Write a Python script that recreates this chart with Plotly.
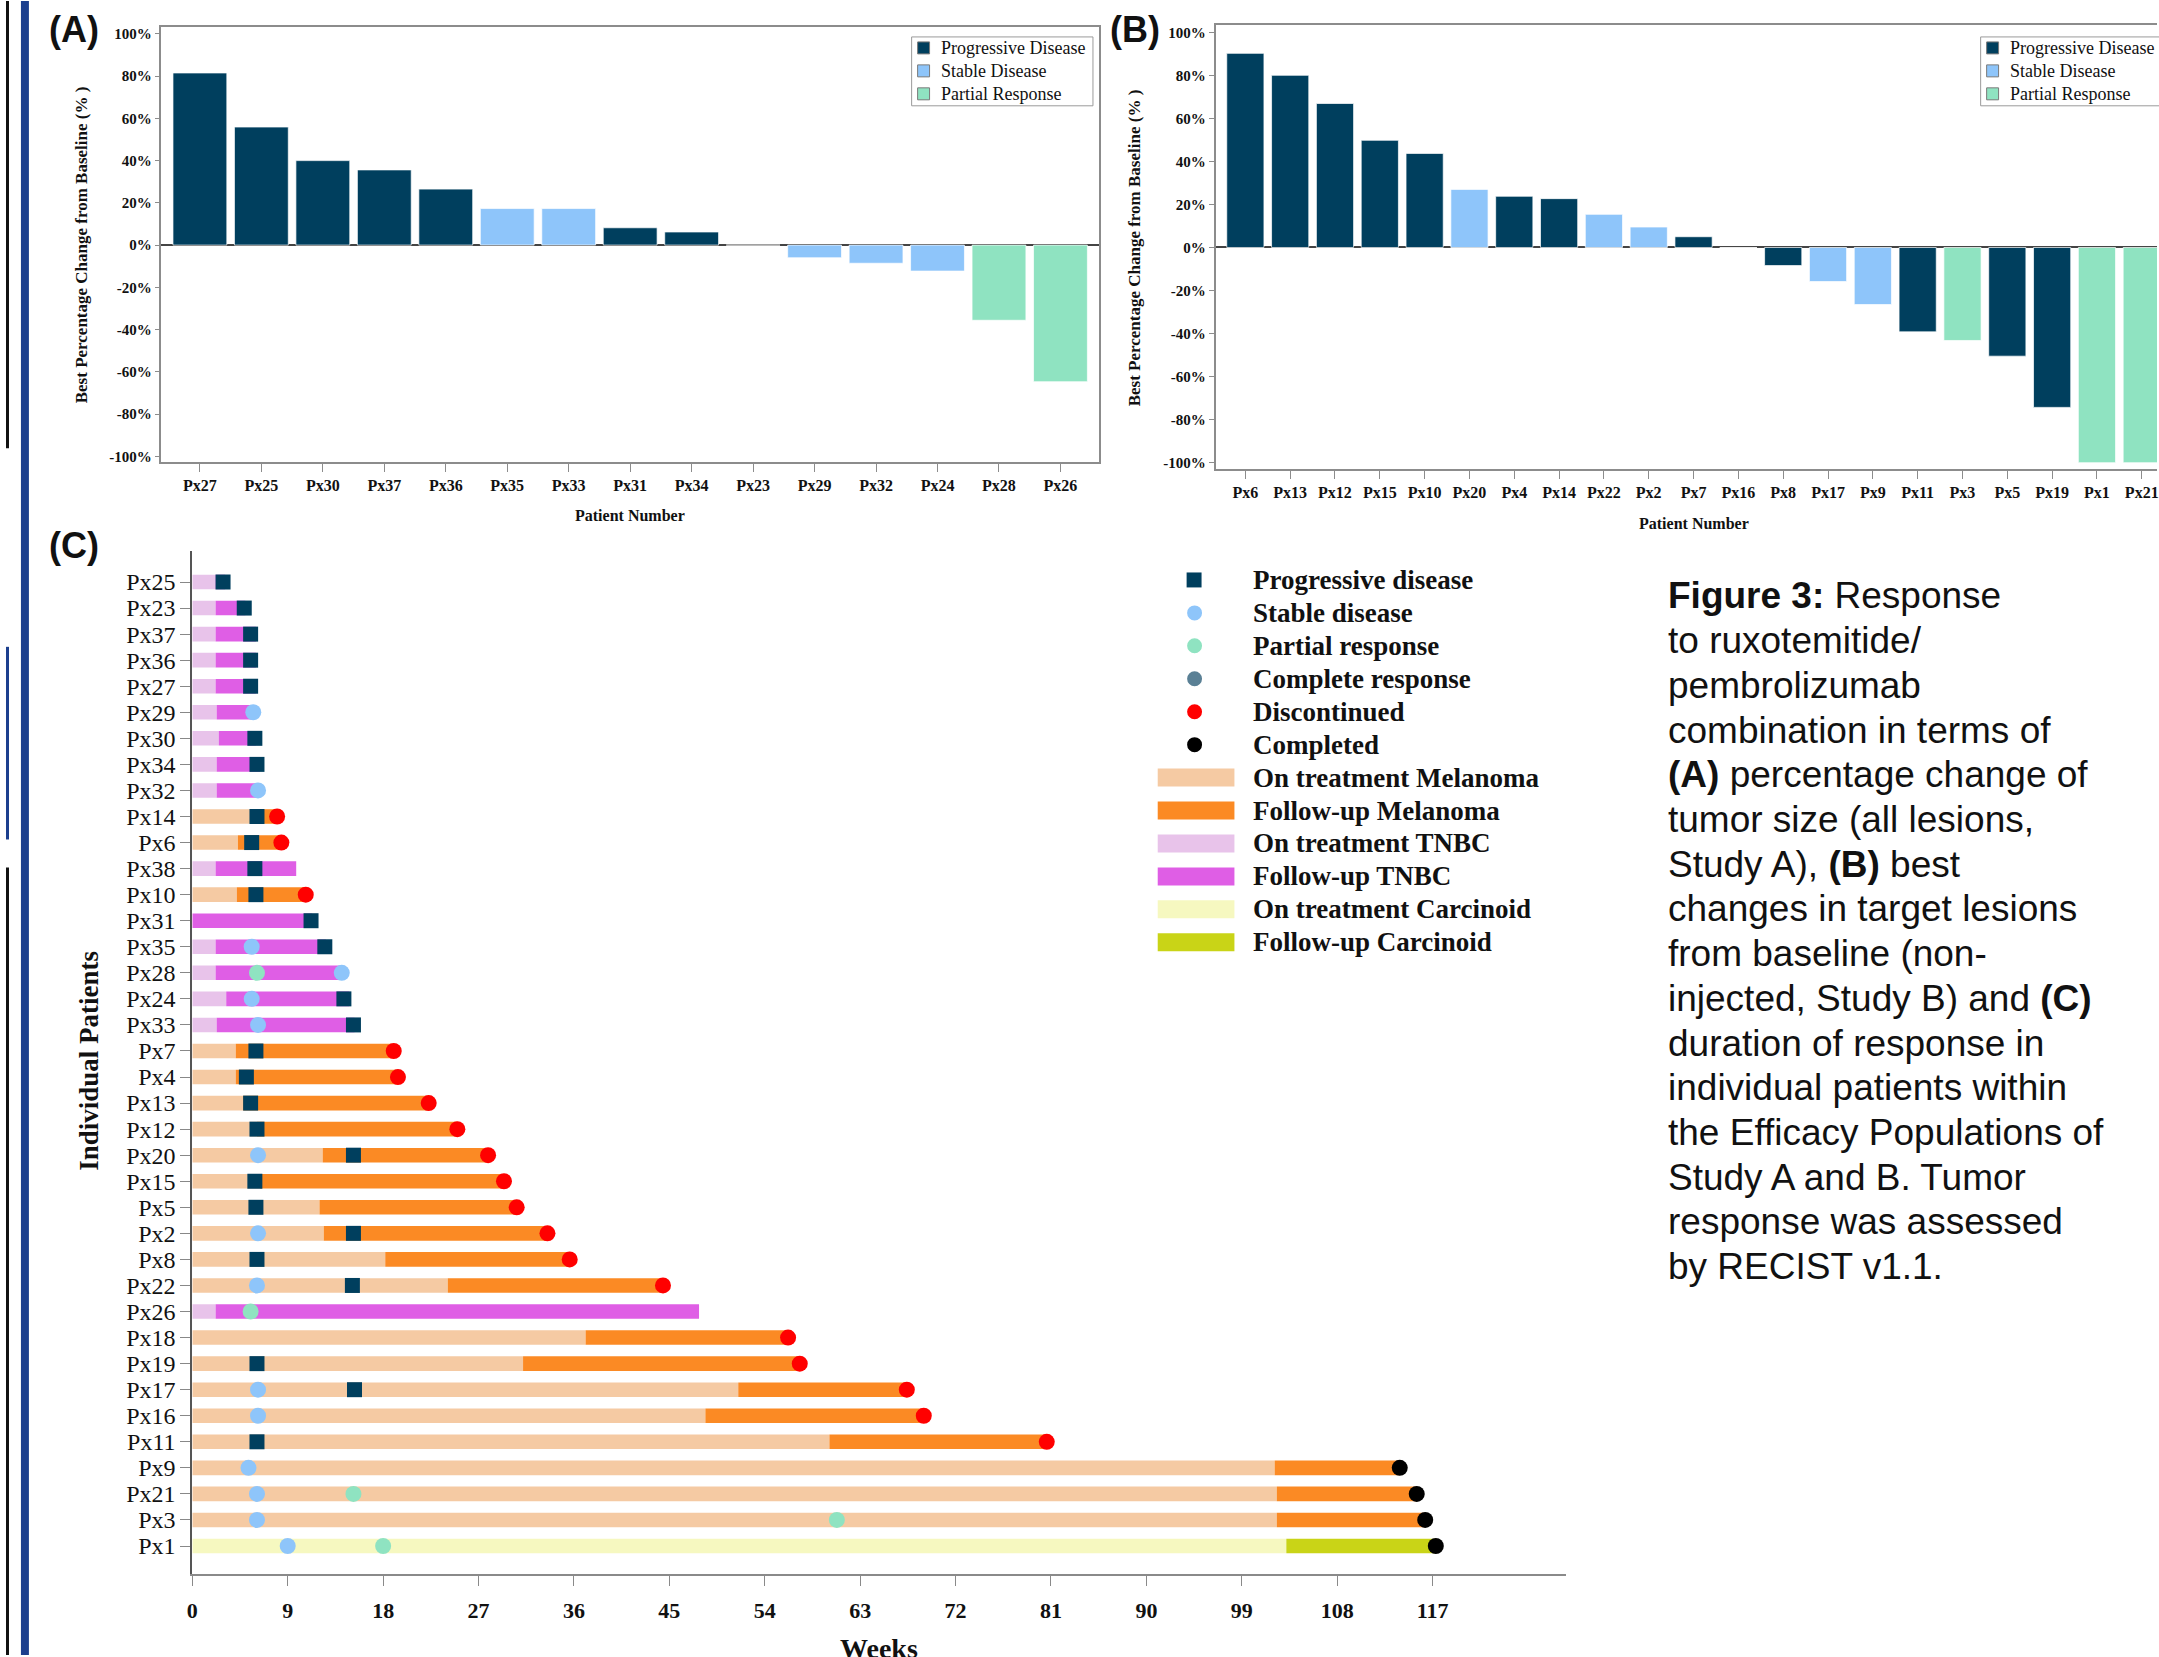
import plotly.graph_objects as go

W, H = 2159, 1657

# ---------------- Panel A data ----------------
a_patients = ["Px27", "Px25", "Px30", "Px37", "Px36", "Px35", "Px33", "Px31",
              "Px34", "Px23", "Px29", "Px32", "Px24", "Px28", "Px26"]
a_values = [81.5, 55.9, 40.0, 35.6, 26.5, 17.3, 17.3, 8.2, 6.2, 0.0,
            -6.0, -8.6, -12.3, -35.6, -64.7]
a_response = ["PD", "PD", "PD", "PD", "PD", "SD", "SD", "PD", "PD", "PD",
              "SD", "SD", "SD", "PR", "PR"]

# ---------------- Panel B data ----------------
b_patients = ["Px6", "Px13", "Px12", "Px15", "Px10", "Px20", "Px4", "Px14",
              "Px22", "Px2", "Px7", "Px16", "Px8", "Px17", "Px9", "Px11",
              "Px3", "Px5", "Px19", "Px1", "Px21"]
b_values = [90.2, 80.0, 66.9, 49.8, 43.7, 27.0, 23.8, 22.7, 15.4, 9.5, 5.0,
            0.0, -8.4, -15.8, -26.5, -39.2, -43.2, -50.5, -74.3, -100.0, -100.0]
b_response = ["PD", "PD", "PD", "PD", "PD", "SD", "PD", "PD", "SD", "SD", "PD",
              "SD", "PD", "SD", "SD", "PD", "PR", "PD", "PD", "PR", "PR"]

pct_tick_vals = [100, 80, 60, 40, 20, 0, -20, -40, -60, -80, -100]
pct_tick_text = ["100%", "80%", "60%", "40%", "20%", "0%", "-20%", "-40%",
                 "-60%", "-80%", "-100%"]

# ---------------- Panel C data (top to bottom) ----------------
c_patients = ["Px25", "Px23", "Px37", "Px36", "Px27", "Px29", "Px30", "Px34",
              "Px32", "Px14", "Px6", "Px38", "Px10", "Px31", "Px35", "Px28",
              "Px24", "Px33", "Px7", "Px4", "Px13", "Px12", "Px20", "Px15",
              "Px5", "Px2", "Px8", "Px22", "Px26", "Px18", "Px19", "Px17",
              "Px16", "Px11", "Px9", "Px21", "Px3", "Px1"]
c_type = ["TNBC"] * 9 + ["Melanoma", "Melanoma", "TNBC", "Melanoma", "TNBC",
          "TNBC", "TNBC", "TNBC", "TNBC"] + ["Melanoma"] * 10 + ["TNBC"] + \
         ["Melanoma"] * 8 + ["Carcinoid"]
c_treat_end = [2.2, 2.2, 2.2, 2.2, 2.2, 2.3, 2.5, 2.3, 2.3, 6.6, 4.3, 2.2, 4.2,
               0.0, 2.2, 2.2, 3.2, 2.3, 4.1, 4.1, 4.8, 6.1, 12.3, 6.4, 12.0,
               12.4, 18.2, 24.1, 2.2, 37.1, 31.2, 51.5, 48.4, 60.1, 102.1,
               102.3, 102.3, 103.2]
c_end = [3.1, 5.0, 6.0, 6.0, 6.0, 5.8, 6.0, 6.4, 6.2, 8.0, 8.4, 9.8, 10.7,
         11.3, 12.6, 14.1, 14.8, 15.3, 19.0, 19.4, 22.3, 25.0, 27.9, 29.4,
         30.6, 33.5, 35.6, 44.4, 47.8, 56.2, 57.3, 67.4, 69.0, 80.6, 113.9,
         115.5, 116.3, 117.3]

pd_patients = ["Px25", "Px23", "Px37", "Px36", "Px27", "Px30", "Px34", "Px14",
               "Px6", "Px38", "Px10", "Px31", "Px35", "Px24", "Px33", "Px7",
               "Px4", "Px13", "Px12", "Px20", "Px15", "Px5", "Px2", "Px8",
               "Px22", "Px19", "Px17", "Px11"]
pd_weeks = [2.9, 4.9, 5.5, 5.5, 5.5, 5.9, 6.1, 6.1, 5.6, 5.9, 6.0, 11.2, 12.5,
            14.3, 15.2, 6.0, 5.1, 5.5, 6.1, 15.2, 5.9, 6.0, 15.2, 6.1, 15.1,
            6.1, 15.3, 6.1]
sd_patients = ["Px29", "Px32", "Px35", "Px28", "Px24", "Px33", "Px20", "Px2",
               "Px22", "Px17", "Px16", "Px9", "Px21", "Px3", "Px1"]
sd_weeks = [5.75, 6.2, 5.6, 14.1, 5.6, 6.2, 6.2, 6.2, 6.1, 6.2, 6.2, 5.3, 6.1,
            6.1, 9.0]
pr_patients = ["Px28", "Px26", "Px21", "Px3", "Px1"]
pr_weeks = [6.1, 5.5, 15.2, 60.8, 18.0]
disc_patients = ["Px14", "Px6", "Px10", "Px7", "Px4", "Px13", "Px12", "Px20",
                 "Px15", "Px5", "Px2", "Px8", "Px22", "Px18", "Px19", "Px17",
                 "Px16", "Px11"]
disc_weeks = [8.0, 8.4, 10.7, 19.0, 19.4, 22.3, 25.0, 27.9, 29.4, 30.6, 33.5,
              35.6, 44.4, 56.2, 57.3, 67.4, 69.0, 80.6]
comp_patients = ["Px9", "Px21", "Px3", "Px1"]
comp_weeks = [113.9, 115.5, 116.3, 117.3]

week_ticks = [0, 9, 18, 27, 36, 45, 54, 63, 72, 81, 90, 99, 108, 117]

caption_lines = [
    "<b>Figure 3:</b> Response",
    "to ruxotemitide/",
    "pembrolizumab",
    "combination in terms of",
    "<b>(A)</b> percentage change of",
    "tumor size (all lesions,",
    "Study A), <b>(B)</b> best",
    "changes in target lesions",
    "from baseline (non-",
    "injected, Study B) and <b>(C)</b>",
    "duration of response in",
    "individual patients within",
    "the Efficacy Populations of",
    "Study A and B. Tumor",
    "response was assessed",
    "by RECIST v1.1.",
]

# ---------------- styles ----------------
resp_colors = {"PD": "#003f5e", "SD": "#8ec5fa", "PR": "#8fe3c1"}
resp_names = {"PD": "Progressive Disease", "SD": "Stable Disease",
              "PR": "Partial Response"}
on_colors = {"Melanoma": "#f5caa3", "TNBC": "#e8c3ea", "Carcinoid": "#f6f8c0"}
fu_colors = {"Melanoma": "#fb8a24", "TNBC": "#df5ee5", "Carcinoid": "#c9d417"}
CR_COLOR = "#5a8095"
SERIF = "Liberation Serif"
SANS = "Liberation Sans"


def X(px):
    return px / W


def Y(py):
    return 1 - py / H


fig = go.Figure()

# Panels A and B bars
for pats, vals, resp, xa, ya, bw in [
    (a_patients, a_values, a_response, "x", "y", 0.876),
    (b_patients, b_values, b_response, "x2", "y2", 0.83),
]:
    for cat in ["PD", "SD", "PR"]:
        xs = [p for p, r in zip(pats, resp) if r == cat]
        ys = [v for v, r in zip(vals, resp) if r == cat]
        fig.add_trace(go.Bar(
            x=xs, y=ys, xaxis=xa, yaxis=ya, width=bw, name=resp_names[cat],
            marker=dict(color=resp_colors[cat],
                        line=dict(width=1, color="rgba(255,255,255,0.7)")),
            showlegend=False))

# Panel C bars
for ctype in ["Melanoma", "TNBC", "Carcinoid"]:
    idx = [i for i, t in enumerate(c_type) if t == ctype]
    ys = [c_patients[i] for i in idx]
    fig.add_trace(go.Bar(
        orientation="h", y=ys, x=[c_treat_end[i] for i in idx],
        base=[0] * len(idx), xaxis="x3", yaxis="y3", width=0.56,
        marker=dict(color=on_colors[ctype], line=dict(width=0)),
        name="On treatment " + ctype, showlegend=False))
    fig.add_trace(go.Bar(
        orientation="h", y=ys,
        x=[c_end[i] - c_treat_end[i] for i in idx],
        base=[c_treat_end[i] for i in idx], xaxis="x3", yaxis="y3",
        width=0.56, marker=dict(color=fu_colors[ctype], line=dict(width=0)),
        name="Follow-up " + ctype, showlegend=False))

# Panel C markers
for pats, wks, sym, col, size, nm in [
    (pd_patients, pd_weeks, "square", resp_colors["PD"], 15, "Progressive disease"),
    (sd_patients, sd_weeks, "circle", resp_colors["SD"], 16, "Stable disease"),
    (pr_patients, pr_weeks, "circle", resp_colors["PR"], 16, "Partial response"),
    (disc_patients, disc_weeks, "circle", "#ff0000", 16, "Discontinued"),
    (comp_patients, comp_weeks, "circle", "#000000", 16, "Completed"),
]:
    fig.add_trace(go.Scatter(
        x=wks, y=pats, mode="markers", xaxis="x3", yaxis="y3", name=nm,
        marker=dict(symbol=sym, color=col, size=size, line=dict(width=0)),
        cliponaxis=False, showlegend=False))

tick_font_ab_x = dict(family=SERIF, size=16, color="#111", weight="bold")
tick_font_ab_y = dict(family=SERIF, size=15, color="#111", weight="bold")
FRAME = "#8c8c8c"

fig.update_layout(
    width=W, height=H, autosize=False,
    margin=dict(l=0, r=0, t=0, b=0, pad=0),
    paper_bgcolor="white", plot_bgcolor="white",
    barmode="overlay", showlegend=False,
    xaxis=dict(domain=[X(156), X(1097)], anchor="y", type="category",
               categoryorder="array", categoryarray=a_patients,
               range=[-0.626, 14.626], showline=True, mirror=True,
               linecolor=FRAME, linewidth=1.5, ticks="outside", ticklen=8,
               tickcolor=FRAME, tickfont=tick_font_ab_x, showgrid=False),
    yaxis=dict(domain=[Y(462), Y(26)], anchor="x", range=[-102.8, 103.3],
               tickvals=pct_tick_vals, ticktext=pct_tick_text,
               showline=True, mirror=True, linecolor=FRAME, linewidth=1.5,
               ticks="outside", ticklen=5, tickcolor=FRAME,
               tickfont=tick_font_ab_y, showgrid=False, zeroline=True,
               zerolinecolor="#444", zerolinewidth=2),
    xaxis2=dict(domain=[X(1214), 1.0], anchor="y2", type="category",
                categoryorder="array", categoryarray=b_patients,
                range=[-0.666, 20.34], showline=True, mirror=True,
                linecolor=FRAME, linewidth=1.5, ticks="outside", ticklen=8,
                tickcolor=FRAME, tickfont=tick_font_ab_x, showgrid=False),
    yaxis2=dict(domain=[Y(469), Y(24)], anchor="x2", range=[-103.0, 103.4],
                tickvals=pct_tick_vals, ticktext=pct_tick_text,
                showline=True, mirror=False, linecolor=FRAME, linewidth=1.5,
                ticks="outside", ticklen=5, tickcolor=FRAME,
                tickfont=tick_font_ab_y, showgrid=False, zeroline=True,
                zerolinecolor="#444", zerolinewidth=2),
    xaxis3=dict(domain=[X(187), X(1566)], anchor="y3", range=[0, 129.6],
                tickvals=week_ticks, showline=True, linecolor="#8a8a8a",
                linewidth=2, ticks="outside", ticklen=10, tickcolor="#8a8a8a",
                ticklabelstandoff=5,
                tickfont=dict(family=SERIF, size=22, color="#111",
                              weight="bold"),
                showgrid=False, zeroline=False),
    yaxis3=dict(domain=[Y(1576), Y(551)], anchor="x3", type="category",
                categoryorder="array",
                categoryarray=list(reversed(c_patients)),
                tickmode="array", tickvals=c_patients, ticktext=c_patients,
                range=[-1.08, 38.19], showline=True, linecolor="#555",
                linewidth=2, ticks="outside", ticklen=10, tickcolor="#888",
                tickfont=dict(family=SERIF, size=24, color="#111"),
                showgrid=False),
)

shapes = []
annotations = []


def text(px, py, s, size, family=SERIF, weight="normal", xanchor="left",
         yanchor="middle", angle=0, color="#111"):
    annotations.append(dict(
        x=X(px), y=Y(py), xref="paper", yref="paper", text=s,
        showarrow=False, xanchor=xanchor, yanchor=yanchor, textangle=angle,
        font=dict(family=family, size=size, color=color, weight=weight)))


def rect(x0, y0, x1, y1, fill, line_color=None, lw=0):
    shapes.append(dict(
        type="rect", xref="paper", yref="paper", x0=X(x0), x1=X(x1),
        y0=Y(y1), y1=Y(y0), fillcolor=fill,
        line=dict(color=line_color or fill, width=lw), layer="above"))


def circ(cx, cy, r, fill):
    shapes.append(dict(
        type="circle", xref="paper", yref="paper", x0=X(cx - r), x1=X(cx + r),
        y0=Y(cy + r), y1=Y(cy - r), fillcolor=fill,
        line=dict(color=fill, width=0), layer="above"))


# Left page-edge decorations
rect(15, 0, 23, 1657, "#1c3f8e")
rect(0, 0, 3, 448, "#111")
rect(0, 647, 3, 840, "#1c3f8e")
rect(0, 868, 3, 1657, "#111")

# Panel labels
text(41, 29, "(A)", 36, SANS, "bold")
text(1106, 29, "(B)", 36, SANS, "bold")
text(41, 545, "(C)", 36, SANS, "bold")

# Axis titles
ytitle = "Best Percentage Change from Baseline (% )"
text(76, 244, ytitle, 17, SERIF, "bold", "center", "middle", -90)
text(1133, 247, ytitle, 17, SERIF, "bold", "center", "middle", -90)
text(626, 515, "Patient Number", 16, SERIF, "bold", "center")
text(1694, 523, "Patient Number", 16, SERIF, "bold", "center")
text(83, 1062, "Individual Patients", 27, SERIF, "bold", "center", "middle", -90)
text(876, 1650, "Weeks", 28, SERIF, "bold", "center")

# Legends for A and B
for bx in [909, 1982]:
    rect(bx, 36, bx + 182, 105, "rgba(0,0,0,0)", "#9a9a9a", 1)
    for i, cat in enumerate(["PD", "SD", "PR"]):
        cy = 47 + 23 * i
        rect(bx + 6, cy - 6, bx + 18, cy + 6, resp_colors[cat], "#7a7a7a", 1)
        text(bx + 27, cy, resp_names[cat], 18, SERIF)

# Legend for C
legend_c = [
    ("square", resp_colors["PD"], "Progressive disease"),
    ("circle", resp_colors["SD"], "Stable disease"),
    ("circle", resp_colors["PR"], "Partial response"),
    ("circle", CR_COLOR, "Complete response"),
    ("circle", "#ff0000", "Discontinued"),
    ("circle", "#000000", "Completed"),
    ("bar", on_colors["Melanoma"], "On treatment Melanoma"),
    ("bar", fu_colors["Melanoma"], "Follow-up Melanoma"),
    ("bar", on_colors["TNBC"], "On treatment TNBC"),
    ("bar", fu_colors["TNBC"], "Follow-up TNBC"),
    ("bar", on_colors["Carcinoid"], "On treatment Carcinoid"),
    ("bar", fu_colors["Carcinoid"], "Follow-up Carcinoid"),
]
for i, (kind, col, lab) in enumerate(legend_c):
    cy = 580 + 33 * i
    if kind == "square":
        rect(1185, cy - 7.5, 1200, cy + 7.5, col)
    elif kind == "circle":
        circ(1193, cy, 7.5, col)
    else:
        rect(1156, cy - 9, 1233, cy + 9, col)
    text(1250, cy, lab, 27, SERIF, "bold")

# Caption
for i, line in enumerate(caption_lines):
    text(1666, 596 + 44.8 * i, line, 37, SANS)

fig.update_layout(shapes=shapes, annotations=annotations)
fig.write_html(
    "out.html",
    config={"displayModeBar": False},
    post_script="document.body.style.margin='0';"
                "document.body.style.overflow='hidden';")
